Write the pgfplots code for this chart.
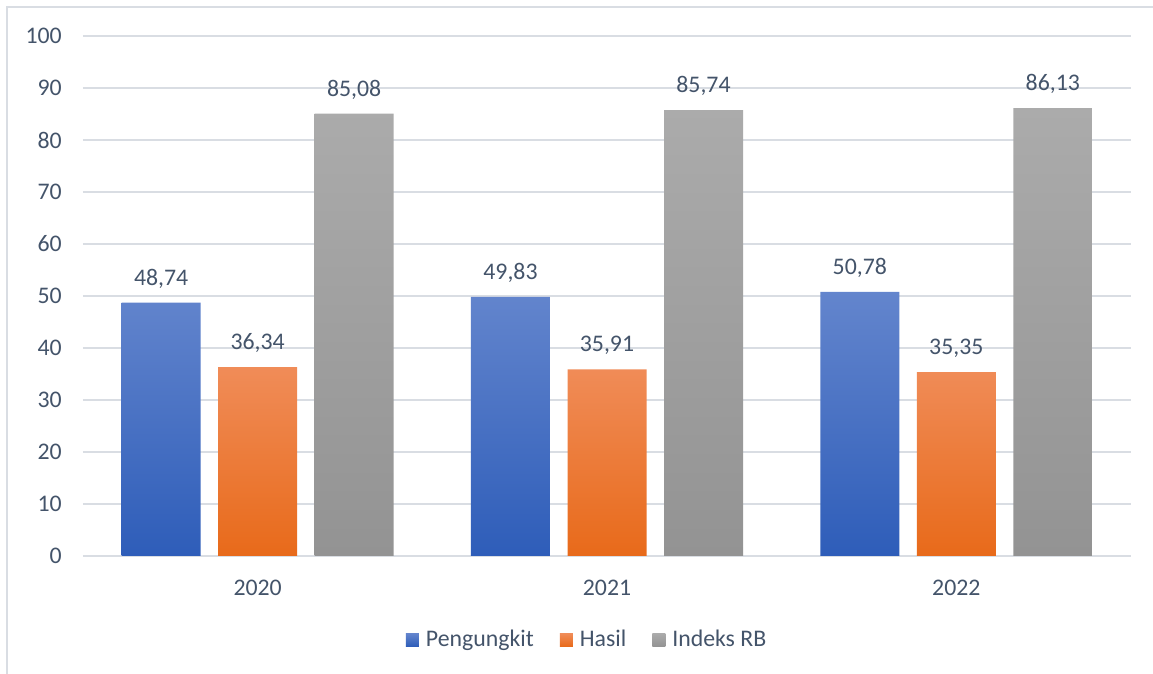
\documentclass[border=0pt]{standalone}
\usepackage{fontspec}
\setmainfont{Carlito}
\usepackage{pgfplots}
\pgfplotsset{compat=1.18}

\definecolor{txt}{HTML}{44546A}
\definecolor{gridc}{HTML}{D9DDE3}
\definecolor{blueT}{HTML}{6385CD}
\definecolor{blueB}{HTML}{2E5DB9}
\definecolor{orT}{HTML}{F08C58}
\definecolor{orB}{HTML}{E86A1A}
\definecolor{grT}{HTML}{ABABAB}
\definecolor{grB}{HTML}{939393}

\begin{document}
\begin{tikzpicture}[x=1pt,y=1pt]
\path[use as bounding box] (0,0) rectangle (576.5,337);
\draw[line width=0.75pt, gridc] (3.5,0) -- (3.5,333.5) -- (576.5,333.5);
\begin{axis}[
    at={(41.5pt,59pt)}, anchor=south west,
    scale only axis, width=524pt, height=260pt,
    xmin=-0.5, xmax=2.5, ymin=0, ymax=100,
    ytick={0,10,...,100},
    xtick={0,1,2}, xticklabels={2020,2021,2022},
    axis line style={draw=none},
    major tick length=0pt,
    ymajorgrids=true,
    grid style={gridc, line width=0.6pt},
    ybar, bar width=39.5pt,
    font=\fontsize{11.9}{14}\selectfont,
    ticklabel style={text=txt},
    /pgf/number format/assume math mode=true,
    xticklabel style={yshift=-8.6pt},
    yticklabel style={xshift=-7.1pt},
    nodes near coords,
    nodes near coords style={text=txt, yshift=3.6pt,
      /pgf/number format/.cd, fixed, precision=2, fixed zerofill, use comma, assume math mode=true},
    legend image code/.code={\path[#1,draw=none] (0pt,-3.25pt) rectangle (6.5pt,3.25pt);},
    legend style={at={(axis description cs:0.482,-0.1615)}, anchor=center,
      draw=none, legend columns=-1, text=txt,
      /tikz/every even column/.append style={column sep=11pt},
      /tikz/every odd column/.append style={column sep=1.5pt}},
]
\addplot[bar shift=-48.25pt, draw=none, top color=blueT, bottom color=blueB]
  coordinates {(0,48.74) (1,49.83) (2,50.78)};
\addplot[bar shift=0pt, draw=none, top color=orT, bottom color=orB]
  coordinates {(0,36.34) (1,35.91) (2,35.35)};
\addplot[bar shift=48.25pt, draw=none, top color=grT, bottom color=grB]
  coordinates {(0,85.08) (1,85.74) (2,86.13)};
\legend{Pengungkit, Hasil, Indeks RB}
\end{axis}
\end{tikzpicture}
\end{document}
